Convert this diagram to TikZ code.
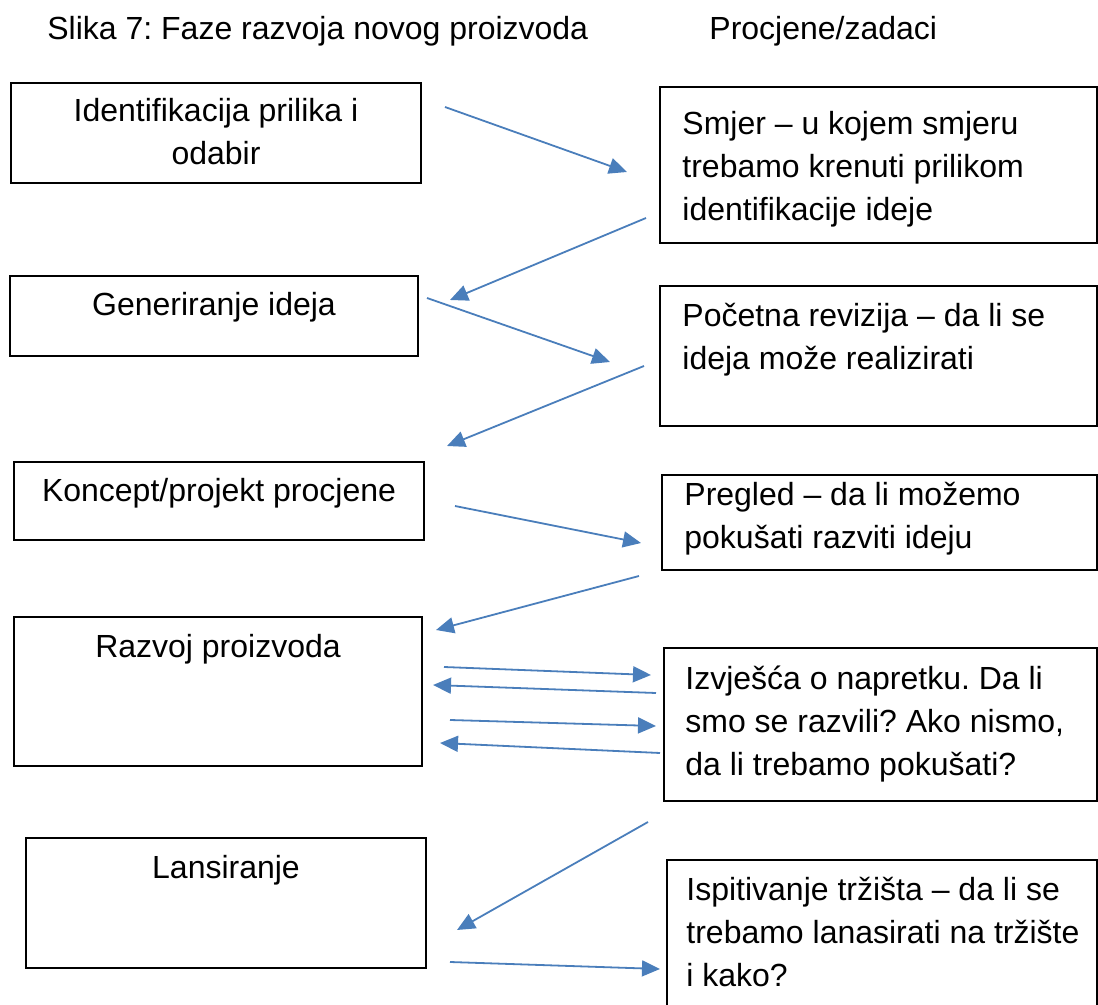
\documentclass[tikz,border=0pt]{standalone}
\usepackage{fontspec}
\setmainfont{Liberation Sans}
\frenchspacing
\usetikzlibrary{arrows.meta, positioning}
\definecolor{arrblue}{RGB}{74,126,187}
\tikzset{
  box/.style={rectangle, draw=black, line width=1pt, inner sep=0pt},
  txt/.style={inner sep=0pt, font=\fontsize{16}{21.5}\selectfont, align=center, anchor=base},
  txtl/.style={txt, align=left, anchor=base west},
  arr/.style={-{Triangle[length=9pt,width=8pt]}, line width=0.9pt, draw=arrblue},
}
\begin{document}
\begin{tikzpicture}[x=0.5pt,y=-0.5pt]
\useasboundingbox (0,0) rectangle (1098,1005);
% naslovi
\node[txt, anchor=base west] (ttl) at (47,40) {Slika 7: Faze razvoja novog proizvoda};
\node[txt, anchor=base west] (ttr) at (709,40) {Procjene/zadaci};
% faze (lijevo)
\node[box, minimum width=205pt, minimum height=50pt] (idn) at (216,133) {};
\node[txt] (idnt) at (216,165) {Identifikacija prilika i\\odabir};
\node[box, minimum width=204pt, minimum height=40pt] (gen) at (214,316) {};
\node[txt] (gent) at (214,316) {Generiranje ideja};
\node[box, minimum width=205pt, minimum height=39pt] (kon) at (219,501) {};
\node[txt] (kont) at (219,502) {Koncept/projekt procjene};
\node[box, minimum width=204pt, minimum height=74.5pt] (raz) at (218,691.5) {};
\node[txt] (razt) at (218,657) {Razvoj proizvoda};
\node[box, minimum width=200pt, minimum height=65pt] (lan) at (226,903) {};
\node[txt] (lant) at (226,878) {Lansiranje};
% procjene (desno)
\node[box, minimum width=218.5pt, minimum height=78pt] (smj) at (878.5,165) {};
\node[txtl] (smjt) at (682,221) {Smjer – u kojem smjeru\\trebamo krenuti prilikom\\identifikacije ideje};
\node[box, minimum width=218.5pt, minimum height=70pt] (rev) at (878.5,356) {};
\node[txtl] (revt) at (682,370) {Početna revizija – da li se\\ideja može realizirati};
\node[box, minimum width=217.5pt, minimum height=47.5pt] (pre) at (879.5,522.5) {};
\node[txtl] (pret) at (684,549) {Pregled – da li možemo\\pokušati razviti ideju};
\node[box, minimum width=216.5pt, minimum height=76.5pt] (izv) at (880.5,724.5) {};
\node[txtl] (izvt) at (685,775) {Izvješća o napretku. Da li\\smo se razvili? Ako nismo,\\da li trebamo pokušati?};
\node[box, minimum width=215pt, minimum height=75pt] (isp) at (882,935) {};
\node[txtl] (ispt) at (686,986) {Ispitivanje tržišta – da li se\\trebamo lanasirati na tržište\\i kako?};
% krajevi strelica
\coordinate (a1) at (445,107);  \coordinate (b1) at (627,172);
\coordinate (a2) at (646,218);  \coordinate (b2) at (450,300);
\coordinate (a3) at (427,298);  \coordinate (b3) at (610,362);
\coordinate (a4) at (644,366);  \coordinate (b4) at (447,446);
\coordinate (a5) at (455,506);  \coordinate (b5) at (641,543);
\coordinate (a6) at (639,576);  \coordinate (b6) at (436,630);
\coordinate (a7) at (444,667);  \coordinate (b7) at (651,675);
\coordinate (a8) at (656,693);  \coordinate (b8) at (433,685);
\coordinate (a9) at (450,720);  \coordinate (b9) at (656,726);
\coordinate (a10) at (660,753); \coordinate (b10) at (440,743);
\coordinate (a11) at (648,822); \coordinate (b11) at (457,930);
\coordinate (a12) at (450,962); \coordinate (b12) at (660,969);
\foreach \i in {1,...,12} \draw[arr] (a\i) -- (b\i);
\end{tikzpicture}
\end{document}
